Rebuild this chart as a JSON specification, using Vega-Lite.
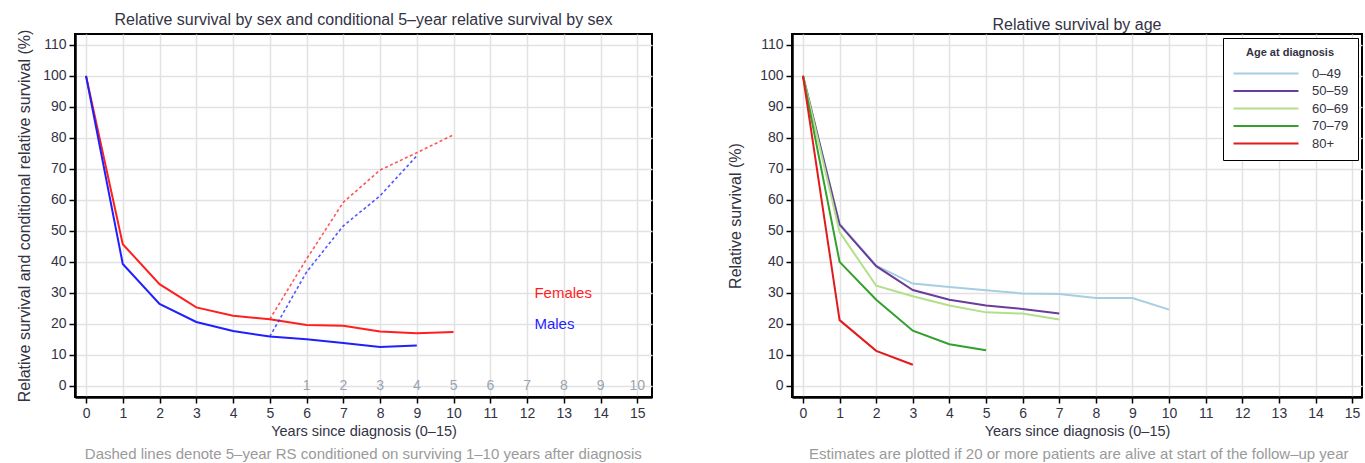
{
  "$schema": "https://vega.github.io/schema/vega-lite/v6.json",
  "padding": {"left": 15, "right": 2, "top": 11, "bottom": 0},
  "spacing": 73,
  "resolve": {"scale": {"color": "independent"}, "legend": {"color": "independent"}},
  "config": {
    "font": "Liberation Sans, sans-serif",
    "view": {"stroke": "black", "strokeWidth": 2},
    "axis": {
      "gridColor": "#e2e2e2", "gridWidth": 1.5,
      "domainColor": "black", "domainWidth": 2.5,
      "tickColor": "black", "tickWidth": 1.5, "tickSize": 6,
      "labelFontSize": 14, "labelColor": "#333344", "labelPadding": 3,
      "titleFontSize": 16, "titleFontWeight": "normal", "titleColor": "#333344"
    },
    "axisX": {"titleFontSize": 14.5, "titlePadding": 4},
    "title": {"fontSize": 16, "fontWeight": "normal", "color": "#333344", "offset": 1},
    "legend": {"labelFontSize": 13, "labelColor": "#333344", "titleFontSize": 12, "titleColor": "#333344"}
  },
  "datasets": {
    "sex": [
      {"year": 0, "value": 100, "sex": "Females", "type": "RS"},
      {"year": 1, "value": 45.7, "sex": "Females", "type": "RS"},
      {"year": 2, "value": 32.8, "sex": "Females", "type": "RS"},
      {"year": 3, "value": 25.3, "sex": "Females", "type": "RS"},
      {"year": 4, "value": 22.6, "sex": "Females", "type": "RS"},
      {"year": 5, "value": 21.5, "sex": "Females", "type": "RS"},
      {"year": 6, "value": 19.6, "sex": "Females", "type": "RS"},
      {"year": 7, "value": 19.4, "sex": "Females", "type": "RS"},
      {"year": 8, "value": 17.5, "sex": "Females", "type": "RS"},
      {"year": 9, "value": 17.0, "sex": "Females", "type": "RS"},
      {"year": 10, "value": 17.4, "sex": "Females", "type": "RS"},
      {"year": 0, "value": 100, "sex": "Males", "type": "RS"},
      {"year": 1, "value": 39.3, "sex": "Males", "type": "RS"},
      {"year": 2, "value": 26.4, "sex": "Males", "type": "RS"},
      {"year": 3, "value": 20.6, "sex": "Males", "type": "RS"},
      {"year": 4, "value": 17.7, "sex": "Males", "type": "RS"},
      {"year": 5, "value": 15.9, "sex": "Males", "type": "RS"},
      {"year": 6, "value": 15.0, "sex": "Males", "type": "RS"},
      {"year": 7, "value": 13.8, "sex": "Males", "type": "RS"},
      {"year": 8, "value": 12.5, "sex": "Males", "type": "RS"},
      {"year": 9, "value": 13.0, "sex": "Males", "type": "RS"},
      {"year": 5, "value": 21.5, "sex": "Females", "type": "CRS"},
      {"year": 6, "value": 40.9, "sex": "Females", "type": "CRS"},
      {"year": 7, "value": 59.2, "sex": "Females", "type": "CRS"},
      {"year": 8, "value": 69.6, "sex": "Females", "type": "CRS"},
      {"year": 9, "value": 75.2, "sex": "Females", "type": "CRS"},
      {"year": 10, "value": 81.0, "sex": "Females", "type": "CRS"},
      {"year": 5, "value": 15.9, "sex": "Males", "type": "CRS"},
      {"year": 6, "value": 36.7, "sex": "Males", "type": "CRS"},
      {"year": 7, "value": 51.6, "sex": "Males", "type": "CRS"},
      {"year": 8, "value": 61.3, "sex": "Males", "type": "CRS"},
      {"year": 9, "value": 74.2, "sex": "Males", "type": "CRS"}
    ],
    "sexlabels": [
      {"year": 12.2, "value": 29.9, "sex": "Females"},
      {"year": 12.2, "value": 19.9, "sex": "Males"}
    ],
    "condlabels": [
      {"year": 6, "value": 0, "label": "1"},
      {"year": 7, "value": 0, "label": "2"},
      {"year": 8, "value": 0, "label": "3"},
      {"year": 9, "value": 0, "label": "4"},
      {"year": 10, "value": 0, "label": "5"},
      {"year": 11, "value": 0, "label": "6"},
      {"year": 12, "value": 0, "label": "7"},
      {"year": 13, "value": 0, "label": "8"},
      {"year": 14, "value": 0, "label": "9"},
      {"year": 15, "value": 0, "label": "10"}
    ],
    "age": [
      {"year": 0, "value": 100, "group": "0–49"},
      {"year": 1, "value": 52.3, "group": "0–49"},
      {"year": 2, "value": 38.8, "group": "0–49"},
      {"year": 3, "value": 33.0, "group": "0–49"},
      {"year": 4, "value": 31.9, "group": "0–49"},
      {"year": 5, "value": 30.8, "group": "0–49"},
      {"year": 6, "value": 29.8, "group": "0–49"},
      {"year": 7, "value": 29.6, "group": "0–49"},
      {"year": 8, "value": 28.3, "group": "0–49"},
      {"year": 9, "value": 28.3, "group": "0–49"},
      {"year": 10, "value": 24.6, "group": "0–49"},
      {"year": 0, "value": 100, "group": "50–59"},
      {"year": 1, "value": 52.0, "group": "50–59"},
      {"year": 2, "value": 38.6, "group": "50–59"},
      {"year": 3, "value": 30.9, "group": "50–59"},
      {"year": 4, "value": 27.8, "group": "50–59"},
      {"year": 5, "value": 25.9, "group": "50–59"},
      {"year": 6, "value": 24.8, "group": "50–59"},
      {"year": 7, "value": 23.3, "group": "50–59"},
      {"year": 0, "value": 100, "group": "60–69"},
      {"year": 1, "value": 49.6, "group": "60–69"},
      {"year": 2, "value": 32.3, "group": "60–69"},
      {"year": 3, "value": 28.9, "group": "60–69"},
      {"year": 4, "value": 25.9, "group": "60–69"},
      {"year": 5, "value": 23.7, "group": "60–69"},
      {"year": 6, "value": 23.3, "group": "60–69"},
      {"year": 7, "value": 21.4, "group": "60–69"},
      {"year": 0, "value": 100, "group": "70–79"},
      {"year": 1, "value": 40.0, "group": "70–79"},
      {"year": 2, "value": 27.8, "group": "70–79"},
      {"year": 3, "value": 17.8, "group": "70–79"},
      {"year": 4, "value": 13.4, "group": "70–79"},
      {"year": 5, "value": 11.5, "group": "70–79"},
      {"year": 0, "value": 100, "group": "80+"},
      {"year": 1, "value": 21.2, "group": "80+"},
      {"year": 2, "value": 11.3, "group": "80+"},
      {"year": 3, "value": 6.8, "group": "80+"}
    ]
  },
  "hconcat": [
    {
      "title": {"text": "Dashed lines denote 5–year RS conditioned on surviving 1–10 years after diagnosis", "orient": "bottom", "anchor": "middle", "dx": 29, "color": "#9a9a9a", "fontSize": 15, "offset": 8},
      "vconcat": [
        {
          "title": {"text": "Relative survival by sex and conditional 5–year relative survival by sex"},
          "width": 577,
          "height": 363,
          "encoding": {
            "x": {"field": "year", "type": "quantitative",
              "scale": {"domain": [-0.3, 15.4], "nice": false, "zero": false},
              "axis": {"values": [0,1,2,3,4,5,6,7,8,9,10,11,12,13,14,15], "labelAngle": 0, "title": "Years since diagnosis (0–15)"}},
            "y": {"field": "value", "type": "quantitative",
              "scale": {"domain": [-3.6, 113.5], "nice": false, "zero": false},
              "axis": {"values": [0,10,20,30,40,50,60,70,80,90,100,110], "title": "Relative survival and conditional relative survival (%)", "titlePadding": 10}}
          },
          "layer": [
            {
              "data": {"name": "sex"},
              "transform": [{"filter": "datum.type === 'RS'"}],
              "mark": {"type": "line", "strokeWidth": 2},
              "encoding": {
                "color": {"field": "sex", "type": "nominal", "scale": {"domain": ["Females", "Males"], "range": ["#ff1f1f", "#1f1fff"]}, "legend": null}
              }
            },
            {
              "data": {"name": "sex"},
              "transform": [{"filter": "datum.type === 'CRS'"}],
              "mark": {"type": "line", "strokeWidth": 1.6, "strokeDash": [3, 2.5], "opacity": 0.75},
              "encoding": {
                "color": {"field": "sex", "type": "nominal", "scale": {"domain": ["Females", "Males"], "range": ["#ff1f1f", "#1f1fff"]}, "legend": null}
              }
            },
            {
              "data": {"name": "sexlabels"},
              "mark": {"type": "text", "align": "left", "baseline": "middle", "fontSize": 15},
              "encoding": {
                "text": {"field": "sex"},
                "color": {"field": "sex", "type": "nominal", "scale": {"domain": ["Females", "Males"], "range": ["#ff1f1f", "#1f1fff"]}, "legend": null}
              }
            },
            {
              "data": {"name": "condlabels"},
              "mark": {"type": "text", "align": "center", "baseline": "middle", "fontSize": 14, "color": "#9aa4b0"},
              "encoding": {"text": {"field": "label"}}
            }
          ]
        }
      ]
    },
    {
      "title": {"text": "Estimates are plotted if 20 or more patients are alive at start of the follow–up year", "orient": "bottom", "anchor": "middle", "dx": 34, "color": "#9a9a9a", "fontSize": 15, "offset": 8},
      "resolve": {"scale": {"color": "independent"}, "legend": {"color": "independent"}},
      "vconcat": [
        {
          "title": {"text": "Relative survival by age"},
          "width": 570,
          "height": 363,
          "data": {"name": "age"},
          "mark": {"type": "line", "strokeWidth": 2},
          "encoding": {
            "x": {"field": "year", "type": "quantitative",
              "scale": {"domain": [-0.3, 15.27], "nice": false, "zero": false},
              "axis": {"values": [0,1,2,3,4,5,6,7,8,9,10,11,12,13,14,15], "labelAngle": 0, "title": "Years since diagnosis (0–15)"}},
            "y": {"field": "value", "type": "quantitative",
              "scale": {"domain": [-3.6, 113.5], "nice": false, "zero": false},
              "axis": {"values": [0,10,20,30,40,50,60,70,80,90,100,110], "title": "Relative survival (%)", "titlePadding": 16}},
            "color": {"field": "group", "type": "nominal",
              "scale": {"domain": ["0–49", "50–59", "60–69", "70–79", "80+"], "range": ["#a6cee3", "#6a3d9a", "#b2df8a", "#33a02c", "#e31a1c"]},
              "legend": {"title": "Age at diagnosis", "orient": "top-right", "offset": 4, "strokeColor": "black", "fillColor": "white", "padding": 9,
                "titleFontWeight": "bold", "titleAnchor": "middle", "titleFontSize": 11, "titlePadding": 9,
                "symbolType": "M-1,0H12", "symbolSize": 100, "symbolStrokeWidth": 2, "labelOffset": 67, "rowPadding": 3.5}
            }
          }
        }
      ]
    }
  ]
}
